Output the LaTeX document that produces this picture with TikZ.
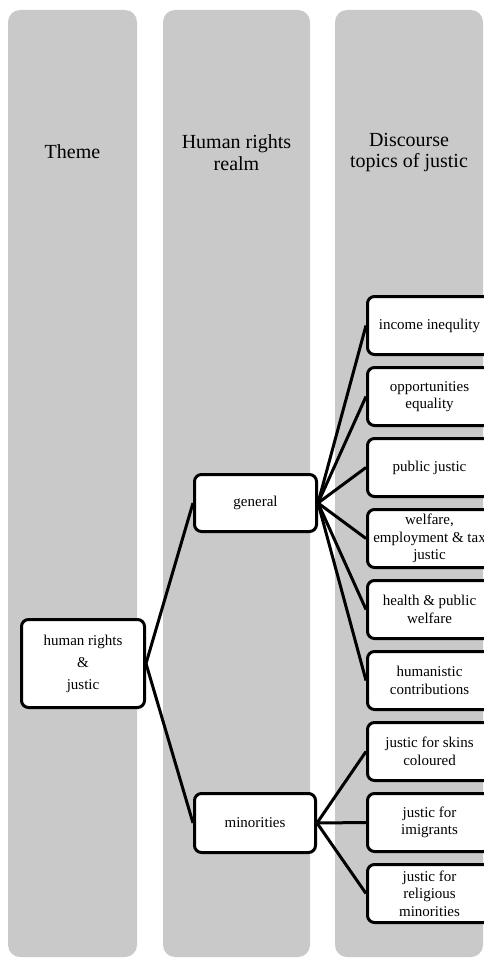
\documentclass[tikz,border=0pt]{standalone}
\usepackage{fontspec}
\setmainfont{Liberation Serif}
\definecolor{colgray}{HTML}{C9C9C9}
\begin{document}
\begin{tikzpicture}[x=1pt,y=-1pt,
  colbox/.style={fill=colgray, rounded corners=12pt},
  head/.style={align=center, font=\fontsize{20}{21.5}\selectfont, inner sep=0pt},
  box/.style={draw=black, line width=3pt, fill=white, rounded corners=7pt,
    align=center, font=\fontsize{15}{17.5}\selectfont, inner sep=0pt, rectangle},
  topic/.style={box, minimum width=124pt, minimum height=58pt},
  link/.style={line width=3pt}]
\useasboundingbox (0,0) rectangle (484,958);
\clip (0,0) rectangle (484,958);
% columns
\fill[colbox] (8,10) rectangle (137,957);
\fill[colbox] (163,10) rectangle (310,957);
\fill[colbox] (335,10) rectangle (483,957);
% headers
\node[head] (h1) at (72.5,152) {Theme};
\node[head] (h2) at (236.5,152.5) {Human rights\\realm};
\node[head] (h3) at (409,152.5) {Discourse\\topics of justic};
% nodes
\node[box, minimum width=123pt, minimum height=88pt] (theme) at (83,663.5) {human rights\\[4.5pt]\&\\[4.5pt]justic};
\node[box, minimum width=122pt, minimum height=57pt] (gen) at (255.5,503) {general};
\node[box, minimum width=121pt, minimum height=59pt] (min) at (255,823) {minorities};
\node[topic] (t1) at (429.5,325.5) {income inequlity};
\node[topic] (t2) at (429.5,396.5) {opportunities\\equality};
\node[topic] (t3) at (429.5,467.5) {public justic};
\node[topic] (t4) at (429.5,538.5) {welfare,\\employment \& tax\\justic};
\node[topic] (t5) at (429.5,609.5) {health \& public\\welfare};
\node[topic] (t6) at (429.5,680.5) {humanistic\\contributions};
\node[topic] (t7) at (429.5,751.5) {justic for skins\\coloured};
\node[topic] (t8) at (429.5,822.5) {justic for\\imigrants};
\node[topic] (t9) at (429.5,893.5) {justic for\\religious\\minorities};
% connectors
\draw[link] (theme.east) -- (gen.west);
\draw[link] (theme.east) -- (min.west);
\foreach \t in {t1,t2,t3,t4,t5,t6}{\draw[link] (gen.east) -- (\t.west);}
\foreach \t in {t7,t8,t9}{\draw[link] (min.east) -- (\t.west);}
\end{tikzpicture}
\end{document}
